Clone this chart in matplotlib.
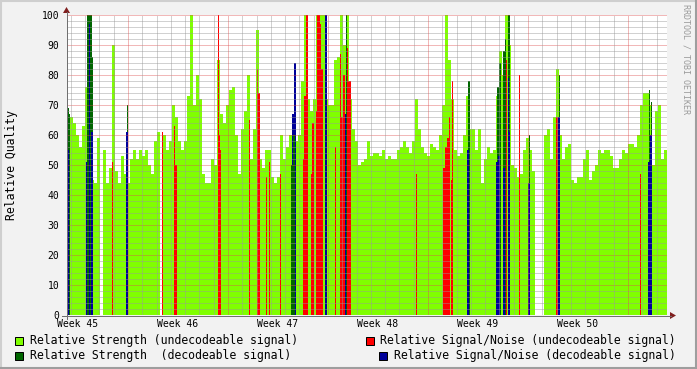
import matplotlib.pyplot as plt
import numpy as np
from matplotlib.patches import Rectangle, Polygon
from matplotlib.lines import Line2D

nan = np.nan

# ------------------------------
# Data (one sample = one pixel column, 600 samples over 6 weeks)
# ------------------------------
# Relative Strength (undecodeable) - consolidated in blocks of 3 samples
strength_undec = [58, 66, 64, 60, 56, 63, 76, 78, 45, 44,
                  59, nan, 55, 44, 49, 90, 48, 44, 53, 47,
                  44, 52, 55, 52, 55, 53, 55, 50, 47, 58,
                  61, nan, 60, 55, 58, 70, 66, 58, 55, 58,
                  73, 100, 70, 80, 72, 47, 44, 44, 52, 50,
                  85, 67, 64, 70, 75, 76, 60, 47, 62, 68,
                  80, 52, 62, 95, 52, 49, 55, 55, 46, 44,
                  46, 60, 52, 56, 60, 58, 58, 60, 78, 100,
                  72, 68, 72, 100, 100, 100, 72, 70, 70, 85,
                  86, 100, 90, 100, 72, 62, 58, 50, 51, 52,
                  58, 53, 54, 54, 53, 55, 52, 53, 52, 52,
                  55, 56, 58, 56, 54, 58, 72, 62, 56, 54,
                  53, 57, 56, 55, 60, 70, 100, 85, 72, 55,
                  53, 54, 60, 73, 62, 62, 55, 62, 44, 52,
                  56, 54, 55, 73, 88, 80, 100, 90, 50, 49,
                  46, 47, 55, 59, 55, 48, nan, nan, nan, 60,
                  62, 52, 66, 82, 60, 52, 56, 57, 45, 44,
                  46, 46, 52, 55, 45, 48, 50, 55, 54, 55,
                  55, 53, 49, 49, 52, 55, 54, 57, 57, 56,
                  60, 70, 74, 74, 70, 50, 68, 70, 52, 55]

# Relative Signal/Noise (undecodeable): start sample, samples, value
sn_undec_start = [45, 95, 107, 108, 151, 152, 153, 182, 190, 191, 199, 202, 213,
                  236, 237, 239, 244, 245, 249, 250, 253, 254, 268, 273, 274, 276,
                  280, 281, 349, 376, 378, 380, 382, 384, 385, 439, 452, 489, 573]
sn_undec_len = [1, 1, 1, 2, 1, 1, 1, 1, 1, 2, 1, 1, 1,
                1, 2, 2, 1, 2, 1, 3, 1, 2, 1, 1, 2, 2,
                1, 3, 1, 2, 2, 2, 1, 1, 1, 1, 1, 2, 1]
sn_undec_val = [51, 61, 63, 50, 100, 60, 55, 65, 82, 74, 46, 51, 47,
                52, 73, 100, 47, 64, 68, 100, 97, 82, 56, 87, 66, 80,
                89, 78, 47, 49, 56, 59, 66, 45, 78, 85, 80, 66, 47]

# Relative Strength (decodeable)
strength_dec_start = [1, 2, 20, 25, 60, 224, 226, 279, 401, 430, 432, 436, 438,
                      441, 462, 492, 582, 584]
strength_dec_len = [1, 1, 5, 1, 1, 2, 2, 1, 2, 2, 2, 2, 1, 2, 1, 1, 1, 1]
strength_dec_val = [69, 67, 100, 86, 70, 50, 60, 100, 78, 76, 84, 88, 92,
                    100, 60, 80, 75, 71]

# Relative Signal/Noise (decodeable)
sn_dec_start = [0, 19, 22, 24, 59, 225, 227, 258, 278, 400, 429, 431, 436,
                441, 442, 461, 491, 581, 583]
sn_dec_len = [2, 1, 1, 2, 2, 2, 2, 2, 1, 2, 2, 2, 2, 1, 1, 2, 2, 2, 2]
sn_dec_val = [55, 51, 97, 61, 61, 67, 84, 100, 67, 55, 51, 53, 49, 79, 61,
              44, 66, 51, 60]

week_labels = ["Week 45", "Week 46", "Week 47", "Week 48", "Week 49", "Week 50"]

# ------------------------------
# Style
# ------------------------------
W, H = 697, 369
BACK = "#f2f2f2"
LIME, DGREEN, RED, BLUE = "#80ff00", "#006600", "#ff0000", "#000099"
GRID = (0.6, 0.6, 0.6, 0.45)
MGRID = (0.87, 0.31, 0.31, 0.4)
ARROW = (0.5, 0.12, 0.12)
AXIS = "#707070"
MONO = "DejaVu Sans Mono"

def px(x, y):
    """pixel (from top-left) -> figure fraction"""
    return x / W, 1 - y / H

fig = plt.figure(figsize=(W / 100, H / 100), dpi=100, facecolor=BACK)
ax = fig.add_axes([67 / W, (H - 315) / H, 600 / W, 300 / H])
ax.set_facecolor("white")
ax.set_xlim(0, 600)
ax.set_ylim(0, 100)

# undecodeable strength (bins of 3 samples)
vals = np.array(strength_undec, dtype=float)
xs = np.arange(len(vals)) * 3
ok = ~np.isnan(vals)
ax.bar(xs[ok], vals[ok], width=3, align="edge", color=LIME,
       linewidth=0, zorder=1, antialiased=False)

# undecodeable signal/noise on top
ax.bar(sn_undec_start, sn_undec_val, width=sn_undec_len, align="edge",
       color=RED, linewidth=0, zorder=1.5, antialiased=False)

# decodeable: smaller value stays visible on top
dec = [(s, l, v, DGREEN) for s, l, v in zip(strength_dec_start, strength_dec_len, strength_dec_val)]
dec += [(s, l, v, BLUE) for s, l, v in zip(sn_dec_start, sn_dec_len, sn_dec_val)]
dec.sort(key=lambda d: -d[2])
for k, (s, l, v, c) in enumerate(dec):
    ax.bar(s, v, width=l, align="edge", color=c, linewidth=0,
           zorder=1.6 + k * 0.001, antialiased=False)

# ------------------------------
# Grid (drawn over the data like rrdtool)
# ------------------------------
for v in range(2, 101, 2):
    col = MGRID if v % 10 == 0 else GRID
    ax.axhline(v, color=col, lw=0.72, ls=(0, (1, 1)), zorder=3, antialiased=False)
day = 100 / 7
for k in range(-4, 38):
    xd = round(60 + k * day)
    if 0 < xd < 600:
        col = MGRID if k % 7 == 0 else GRID
        ax.axvline(xd + 0.5, color=col, lw=0.72, ls=(0, (1, 1)), zorder=3,
                   antialiased=False)

for s in ax.spines.values():
    s.set_visible(False)

ax.set_yticks(range(0, 101, 10))
ax.set_yticklabels([str(v) for v in range(0, 101, 10)], fontfamily=MONO, fontsize=7)
ax.set_xticks([10.5 + 100 * k for k in range(len(week_labels))])
ax.set_xticklabels(week_labels, fontfamily=MONO, fontsize=7)
ax.tick_params(axis="y", length=0, pad=5.5)
ax.tick_params(axis="x", length=0, pad=3)

# axis lines with arrows
fig.add_artist(Line2D(*zip(px(62, 315.5), px(671, 315.5)), color=AXIS, lw=0.72))
fig.add_artist(Line2D(*zip(px(66.5, 319), px(66.5, 12)), color=AXIS, lw=0.72))
fig.add_artist(Polygon([px(670, 312), px(670, 319), px(676, 315.5)], closed=True,
                       color=ARROW, lw=0))
fig.add_artist(Polygon([px(63, 13), px(70, 13), px(66.5, 7)], closed=True,
                       color=ARROW, lw=0))

# y label and watermark
fig.text(*px(12, 165), "Relative Quality", rotation=90, ha="center", va="center",
         fontfamily=MONO, fontsize=8.3)
fig.text(*px(686, 4), "RRDTOOL / TOBI OETIKER", rotation=270, ha="center", va="top",
         fontfamily=MONO, fontsize=6, color="#9a9a9a")

# legend
legend = [(15, 340.5, 30, LIME, "Relative Strength (undecodeable signal)"),
          (15, 355.5, 30, DGREEN, "Relative Strength  (decodeable signal)"),
          (366, 340.5, 380, RED, "Relative Signal/Noise (undecodeable signal)"),
          (379, 355.5, 394, BLUE, "Relative Signal/Noise (decodeable signal)")]
for bx, y, tx, c, label in legend:
    x0, y0 = px(bx, y + 4)
    fig.add_artist(Rectangle((x0, y0), 8 / W, 8 / H, facecolor=c,
                             edgecolor="black", lw=0.72))
    fig.text(*px(tx, y), label, ha="left", va="center", fontfamily=MONO, fontsize=8.3)

# 3d-ish border
fig.add_artist(Line2D(*zip(px(0, 1), px(W, 1)), color="#cfcfcf", lw=1.5))
fig.add_artist(Line2D(*zip(px(1, 0), px(1, H)), color="#cfcfcf", lw=1.5))
fig.add_artist(Line2D(*zip(px(0, H - 1), px(W, H - 1)), color="#9e9e9e", lw=1.5))
fig.add_artist(Line2D(*zip(px(W - 1, 0), px(W - 1, H)), color="#9e9e9e", lw=1.5))

fig.savefig("out.png", dpi=100, facecolor=BACK)
